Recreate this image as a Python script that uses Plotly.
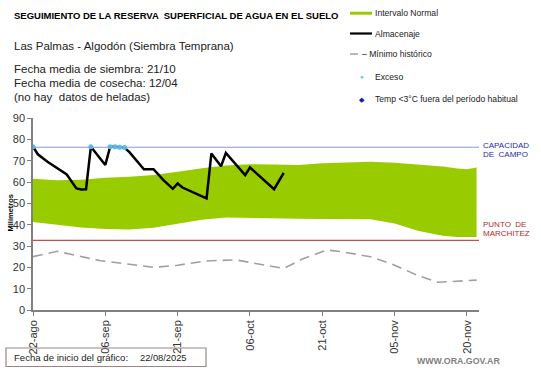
import datetime as dt
import plotly.graph_objects as go

START = dt.date(2025, 8, 22)

# ---------------- data (day offsets from 22/08/2025) ----------------
band_days = [0, 5, 10, 15, 20, 25, 30, 35, 40, 45, 50, 55, 60, 65, 70, 75, 80, 85, 88, 90, 92]
band_upper = [61.5, 60.8, 61.0, 62.0, 62.5, 63.3, 64.8, 66.5, 67.7, 68.3, 68.2, 68.0, 68.8, 69.2, 69.5, 69.0, 68.3, 67.3, 66.3, 66.0, 66.8]
band_lower = [41.3, 40.0, 38.7, 38.0, 37.7, 38.5, 40.3, 42.3, 43.4, 43.3, 43.0, 42.8, 42.6, 42.4, 42.5, 40.5, 37.0, 34.8, 34.2, 34.2, 34.2]

alm_days = [0, 1, 3, 5, 7, 9, 10, 11, 12, 15, 16, 17, 18, 19, 20, 23, 25, 27, 29, 30, 31, 36, 37, 39, 40, 44, 45, 50, 52]
alm_vals = [76.5, 73.0, 69.5, 66.5, 63.5, 57.0, 56.5, 56.6, 76.5, 68.0, 76.5, 76.5, 76.2, 76.0, 74.0, 66.0, 66.0, 61.0, 56.8, 59.3, 57.4, 52.3, 73.4, 67.4, 73.6, 63.2, 66.8, 56.6, 64.3]

min_days = [0, 5, 14, 22, 25, 30, 36, 42, 47, 52, 56, 61, 64, 70, 75, 80, 84, 90, 92]
min_vals = [25.0, 27.5, 23.1, 21.0, 20.0, 21.0, 23.0, 23.5, 21.5, 19.5, 24.0, 28.1, 27.3, 25.0, 21.0, 16.0, 13.0, 14.0, 14.0]

exceso_days = [0, 12, 16, 17, 18, 19]
exceso_vals = [76.5, 76.5, 76.5, 76.5, 76.3, 76.2]

CAPACIDAD_CAMPO = 76.3
PUNTO_MARCHITEZ = 32.6

tick_days = [0, 15, 30, 45, 60, 75, 90]
tick_labels = ["22-ago", "06-sep", "21-sep", "06-oct", "21-oct", "05-nov", "20-nov"]
y_ticks = [0, 10, 20, 30, 40, 50, 60, 70, 80, 90]


def d(n):
    return (dt.datetime.combine(START, dt.time()) + dt.timedelta(days=n))


# ---------------- layout geometry helpers (pixel -> paper) ----------------
W, H = 541, 368
ML, MR, MT, MB = 33, 62, 118, 58
PW, PH = W - ML - MR, H - MT - MB


def px(x):
    return (x - ML) / PW


def py(y):
    return (H - MB - y) / PH


FONT = "Liberation Sans, Arial, sans-serif"

fig = go.Figure()

fig.add_trace(go.Scatter(x=[d(n) for n in band_days], y=band_lower, mode="lines",
                         line=dict(width=0, color="#99cc00"), showlegend=False, hoverinfo="skip"))
fig.add_trace(go.Scatter(x=[d(n) for n in band_days], y=band_upper, mode="lines",
                         line=dict(width=0, color="#99cc00"), fill="tonexty",
                         fillcolor="#99cc00", showlegend=False, name="Intervalo Normal"))
fig.add_trace(go.Scatter(x=[d(n) for n in min_days], y=min_vals, mode="lines",
                         line=dict(color="#a0a0a0", width=1.6, dash="10px,6px"),
                         showlegend=False, name="Mínimo histórico"))
fig.add_trace(go.Scatter(x=[d(n) for n in alm_days], y=alm_vals, mode="lines",
                         line=dict(color="#000000", width=2.5),
                         showlegend=False, name="Almacenaje"))
fig.add_trace(go.Scatter(x=[d(n) for n in exceso_days], y=exceso_vals, mode="markers",
                         marker=dict(color="#4cc4e6", size=5),
                         showlegend=False, name="Exceso"))

shapes = [
    dict(type="line", xref="paper", yref="y", x0=0, x1=1, y0=CAPACIDAD_CAMPO, y1=CAPACIDAD_CAMPO,
         line=dict(color="#8898d8", width=1.2)),
    dict(type="line", xref="paper", yref="y", x0=0, x1=1, y0=PUNTO_MARCHITEZ, y1=PUNTO_MARCHITEZ,
         line=dict(color="#c0504d", width=1.2)),
    # legend swatches
    dict(type="rect", xref="paper", yref="paper", x0=px(350), x1=px(372), y0=py(14.7), y1=py(11.7),
         fillcolor="#99cc00", line=dict(width=0)),
    dict(type="line", xref="paper", yref="paper", x0=px(350), x1=px(372), y0=py(33.5), y1=py(33.5),
         line=dict(color="#000000", width=2.2)),
    dict(type="line", xref="paper", yref="paper", x0=px(350), x1=px(358), y0=py(54), y1=py(54),
         line=dict(color="#a0a0a0", width=1.5)),
    # bottom box
    dict(type="rect", xref="paper", yref="paper", x0=px(6), x1=px(206), y0=py(348), y1=py(366.5),
         line=dict(color="#9c8585", width=1.2), fillcolor="rgba(0,0,0,0)"),
]

ann = []


def text(x, y, s, size, color="#000000", bold=False, xanchor="left", family=FONT, angle=0):
    ann.append(dict(xref="paper", yref="paper", x=px(x), y=py(y), text=(f"<b>{s}</b>" if bold else s),
                    showarrow=False, xanchor=xanchor, yanchor="middle", textangle=angle,
                    font=dict(size=size, color=color, family=family)))


text(12, 15, "SEGUIMIENTO DE LA RESERVA  SUPERFICIAL DE AGUA EN EL SUELO", 9.5, bold=True)
text(12, 46, "Las Palmas - Algodón (Siembra Temprana)", 11.5, color="#222")
text(12, 68.5, "Fecha media de siembra: 21/10", 11.5, color="#222")
text(12, 83, "Fecha media de cosecha: 12/04", 11.5, color="#222")
text(12, 97, "(no hay  datos de heladas)", 11.5, color="#222")

text(373, 13, "Intervalo Normal", 8.6, color="#222")
text(373, 34, "Almacenaje", 8.6, color="#222")
text(360, 54, "– Mínimo histórico", 8.6, color="#222")
text(373, 77, "Exceso", 8.6, color="#222")
text(373, 99.5, "Temp &lt;3°C fuera del período habitual", 8.6, color="#222")
text(361.5, 77, "●", 6, color="#4cc4e6", xanchor="center")
text(361.5, 99.5, "◆", 7, color="#1c1c9c", xanchor="center")

text(481, 145, "CAPACIDAD", 8, color="#2a2aa8")
text(481, 154.5, "DE  CAMPO", 8, color="#2a2aa8")
text(481, 224.5, "PUNTO  DE", 8, color="#b02a30")
text(481, 233.5, "MARCHITEZ", 8, color="#b02a30")

text(9.5, 213, "Milímetros", 7.5, bold=True, xanchor="center", angle=-90)

text(12, 357.5, "Fecha de inicio del gráfico:", 9.6, color="#222")
text(138, 357.5, "22/08/2025", 9.3, color="#222")
text(502, 360.5, "WWW.ORA.GOV.AR", 8.8, color="#7f7f7f", bold=True, xanchor="right")

fig.update_layout(
    width=W, height=H, autosize=False,
    margin=dict(l=ML, r=MR, t=MT, b=MB, pad=0),
    paper_bgcolor="white", plot_bgcolor="white",
    shapes=shapes, annotations=ann, showlegend=False,
    font=dict(family=FONT, size=11, color="#333"),
)
fig.update_xaxes(
    range=[d(0), d(92.5)], tickmode="array",
    tickvals=[d(n) for n in tick_days], ticktext=tick_labels, tickangle=-90,
    showgrid=False, zeroline=False, showline=True, linecolor="#808080", linewidth=1.5,
    ticks="outside", ticklen=4, tickcolor="#808080", tickfont=dict(size=11, color="#333"),
)
fig.update_yaxes(
    range=[0, 90], tickmode="array", tickvals=y_ticks,
    showgrid=False, zeroline=False, showline=True, linecolor="#808080", linewidth=1.5,
    ticks="outside", ticklen=4, tickcolor="#808080", tickfont=dict(size=11, color="#333"),
)

fig.write_html(
    "out.html",
    config={"displayModeBar": False},
    post_script=["document.body.style.margin='0';document.body.style.overflow='hidden';"],
)
